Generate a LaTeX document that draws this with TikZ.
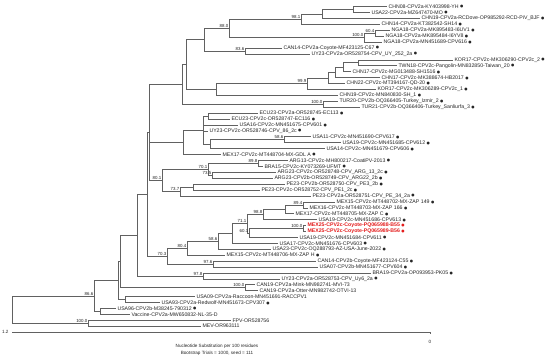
\documentclass[tikz,border=0pt]{standalone}
\usepackage{fontspec}
\setmainfont{Liberation Sans}
\newfontfamily\dvs{DejaVu Sans}
\usetikzlibrary{calc}
\definecolor{brc}{gray}{0.38}
\definecolor{mexred}{RGB}{228,28,28}
\newcommand\bul{ \raisebox{0.25pt}{\scalebox{0.72}{\dvs ●}}}
\newcommand\tleaf[4]{\coordinate (#1) at ({#3-2},{6.5+5.92*(#2-1)}); \node[lab] (t#1) at (#1) {#4};}
\newcommand\tnode[4]{\path let \p1=($(#3)!.5!(#4)$) in (#2pt,\y1) coordinate (#1);}
\newcommand\tedge[2]{\foreach \c in {#2}{\draw[br] (#1) |- (\c);}}
\newcommand\tboot[2]{\node[bs] (b#1) at (#1) {#2};}
\tikzset{
 br/.style={draw=brc, line width=0.5pt},
 lab/.style={font=\fontsize{5.2}{6}\selectfont, inner xsep=1.3pt, inner ysep=0pt, anchor=west, text=black!85},
 redlab/.style={lab, text=mexred, font=\fontsize{5.2}{6}\selectfont\bfseries},
 bs/.style={font=\fontsize{4.4}{5}\selectfont, inner sep=0.5pt, anchor=south east, text=black!85},
 axis/.style={font=\fontsize{4.6}{5.5}\selectfont, text=black!85}
}
\begin{document}
\begin{tikzpicture}[x=1pt,y=-1pt]
\fill[white] (0,0) rectangle (550,357);
\useasboundingbox (0,0) rectangle (550,357);
% leaves
\tleaf{L1}{1}{389}{CHN08-CPV2a-KY403998-YH\bul}
\tleaf{L2}{2}{372}{USA22-CPV2a-MZ647470-MO\bul}
\tleaf{L3}{3}{422}{CHN19-CPV2a-RCDove-OP985292-RCD-PiV\_BJF\bul}
\tleaf{L4}{4}{382}{CHN14-CPV2a-KT382542-SH14\bul}
\tleaf{L5}{5}{392}{NGA18-CPV2a-MK895483-I6UV1\bul}
\tleaf{L6}{6}{386}{NGA18-CPV2a-MK895484-I6YV8\bul}
\tleaf{L7}{7}{384}{NGA18-CPV2a-MN451689-CPV616\bul}
\tleaf{L8}{8}{284}{CAN14-CPV2a-Coyote-MF423125-C67\bul}
\tleaf{L9}{9}{312}{UY23-CPV2a-OR528754-CPV\_UY\_252\_2a\bul}
\tleaf{L10}{10}{455}{KOR17-CPV2c-MK306290-CPV2c\_2\bul}
\tleaf{L11}{11}{399}{TWN18-CPV2c-Pangolin-MN832850-Taiwan\_20\bul}
\tleaf{L12}{12}{353}{CHN17-CPV2c-MG013488-SH1516\bul}
\tleaf{L13}{13}{382}{CHN17-CPV2c-MK388674-HB2017\bul}
\tleaf{L14}{14}{347}{CHN22-CPV2c-MT394167-QD-20\bul}
\tleaf{L15}{15}{378}{KOR17-CPV2c-MK306289-CPV2c\_1\bul}
\tleaf{L16}{16}{340}{CHN19-CPV2c-MN840830-SH\_1\bul}
\tleaf{L17}{17}{340}{TUR20-CPV2b-OQ366405-Turkey\_Izmir\_2\bul}
\tleaf{L18}{18}{362}{TUR21-CPV2b-OQ366406-Turkey\_Sanliurfa\_3\bul}
\tleaf{L19}{19}{260}{ECU23-CPV2a-OR528745-EC113\bul}
\tleaf{L20}{20}{232}{ECU23-CPV2c-OR528747-EC116\bul}
\tleaf{L21}{21}{240}{USA16-CPV2c-MN451675-CPV601\bul}
\tleaf{L22}{22}{210}{UY23-CPV2c-OR528746-CPV\_86\_2c\bul}
\tleaf{L23}{23}{313}{USA11-CPV2c-MN451690-CPV617\bul}
\tleaf{L24}{24}{343}{USA19-CPV2c-MN451685-CPV612\bul}
\tleaf{L25}{25}{327}{USA14-CPV2c-MN451679-CPV606\bul}
\tleaf{L26}{26}{223}{MEX17-CPV2c-MT448704-MX-GDL A\bul}
\tleaf{L27}{27}{290}{ARG13-CPV2c-MH800217-CoatiPV-2013\bul}
\tleaf{L28}{28}{265}{BRA15-CPV2c-KY073269-UFMT\bul}
\tleaf{L29}{29}{278}{ARG23-CPV2c-OR528748-CPV\_ARG\_13\_2c\bul}
\tleaf{L30}{30}{275}{ARG23-CPV2b-OR528749-CPV\_ARG22\_2b\bul}
\tleaf{L31}{31}{287}{PE23-CPV2b-OR528750-CPV\_PE3\_2b\bul}
\tleaf{L32}{32}{262}{PE23-CPV2c-OR528752-CPV\_PE1\_2c\bul}
\tleaf{L33}{33}{313}{PE23-CPV2a-OR528751-CPV\_PE\_34\_2a\bul}
\tleaf{L34}{34}{337}{MEX15-CPV2c-MT448702-MX-ZAP 149\bul}
\tleaf{L35}{35}{310}{MEX16-CPV2c-MT448703-MX-ZAP 166\bul}
\tleaf{L36}{36}{296}{MEX17-CPV2c-MT448705-MX-ZAP C\bul}
\tleaf{L37}{37}{319}{USA19-CPV2c-MN451686-CPV613\bul}
\coordinate (L38) at (306,{6.5+5.92*37}); \node[redlab] (tL38) at (L38) {MEX25-CPV2c-Coyote-PQ065988-B55\bul};
\coordinate (L39) at (306,{6.5+5.92*38}); \node[redlab] (tL39) at (L39) {MEX25-CPV2c-Coyote-PQ065989-B56\bul};
\tleaf{L40}{40}{300}{USA19-CPV2c-MN451684-CPV611\bul}
\tleaf{L41}{41}{280}{USA17-CPV2c-MN451676-CPV603\bul}
\tleaf{L42}{42}{273}{USA23-CPV2c-OQ288793-AZ-USA-June-2022\bul}
\tleaf{L43}{43}{227}{MEX15-CPV2c-MT448706-MX-ZAP H\bul}
\tleaf{L44}{44}{318}{CAN14-CPV2b-Coyote-MF423124-C55\bul}
\tleaf{L45}{45}{320}{USA07-CPV2b-MN451677-CPV604\bul}
\tleaf{L46}{46}{373}{BRA19-CPV2a-OP093953-PK05\bul}
\tleaf{L47}{47}{282}{UY23-CPV2a-OR528753-CPV\_Uy6\_2a\bul}
\tleaf{L48}{48}{257}{CAN19-CPV2a-Mink-MN982741-MVI-73}
\tleaf{L49}{49}{260}{CAN19-CPV2a-Otter-MN982742-OTVI-13}
\tleaf{L50}{50}{197}{USA09-CPV2a-Raccoon-MN451691-RACCPV1}
\tleaf{L51}{51}{162}{USA93-CPV2a-Redwolf-MN451673-CPV307\bul}
\tleaf{L52}{52}{118}{USA96-CPV2b-M38245-790312\bul}
\tleaf{L53}{53}{132}{Vaccine-CPV2a-MW650832-NL-35-D}
\tleaf{L54}{54}{233}{FPV-OR528756}
\tleaf{L55}{55}{203}{MEV-OR963111}
% internal nodes
\tnode{n353}{353}{L1}{L2}
\tnode{n322}{322}{n353}{L3}
\tnode{n981}{301}{n322}{L4}
\tnode{n604}{375}{L5}{L6}
\tnode{n100a}{364}{n604}{L7}
\tnode{n880}{229}{n981}{n100a}
\tnode{n836}{245}{L8}{L9}
\tnode{A2}{204}{n880}{n836}
\tnode{q1}{358}{L10}{L11}
\tnode{q2}{343}{q1}{L12}
\tnode{q3}{335}{q2}{L13}
\tnode{q4}{328}{q3}{L14}
\tnode{q99}{307}{q4}{L15}
\tnode{A3}{216}{q99}{L16}
\tnode{A1}{186}{A2}{A3}
\tnode{TUR}{323}{L17}{L18}
\tnode{A}{182}{A1}{TUR}
\tnode{EC}{208}{L19}{L20}
\tnode{k584}{284}{L23}{L24}
\tnode{K}{210}{k584}{L25}
\tnode{J}{203}{EC}{K}
\tnode{L}{183}{J}{L26}
\tnode{P1}{258}{L27}{L28}
\tnode{P73}{212}{L29}{L30}
\tnode{P70}{208}{P1}{P73}
\tnode{pe}{193}{L31}{L32}
\tnode{PE73}{180}{pe}{L33}
\tnode{Pg}{162}{P70}{PE73}
\tnode{T}{149}{A}{Pg}
\tnode{n89}{303}{L34}{L35}
\tnode{nh2}{285}{n89}{L36}
\tnode{n98}{263}{nh2}{L37}
\tnode{m25}{303}{L38}{L39}
\tnode{n60}{249}{m25}{L40}
\tnode{n71}{247}{n98}{n60}
\tnode{n1}{232}{n71}{L41}
\tnode{n586}{218}{n1}{L42}
\tnode{n804}{187}{n586}{L43}
\tnode{G}{213}{L44}{L45}
\tnode{n703}{167}{n804}{G}
\tnode{C}{147}{T}{n703}
\tnode{D}{203}{L46}{L47}
\tnode{B}{137}{C}{D}
\tnode{MO}{245}{L48}{L49}
\tnode{W}{120}{B}{MO}
\tnode{Q}{125}{L50}{L51}
\tnode{X}{118}{W}{Q}
\tnode{V}{100}{L52}{L53}
\tnode{I}{94}{X}{V}
\tnode{O}{88}{L54}{L55}
\tnode{R}{12}{I}{O}
% edges
\tedge{n353}{L1,L2}
\tedge{n322}{n353,L3}
\tedge{n981}{n322,L4}
\tedge{n604}{L5,L6}
\tedge{n100a}{n604,L7}
\tedge{n880}{n981,n100a}
\tedge{n836}{L8,L9}
\tedge{A2}{n880,n836}
\tedge{q1}{L10,L11}
\tedge{q2}{q1,L12}
\tedge{q3}{q2,L13}
\tedge{q4}{q3,L14}
\tedge{q99}{q4,L15}
\tedge{A3}{q99,L16}
\tedge{A1}{A2,A3}
\tedge{TUR}{L17,L18}
\tedge{A}{A1,TUR}
\tedge{EC}{L19,L20}
\tedge{k584}{L23,L24}
\tedge{K}{k584,L25}
\tedge{J}{EC,L21,L22,K}
\tedge{L}{J,L26}
\tedge{P1}{L27,L28}
\tedge{P73}{L29,L30}
\tedge{P70}{P1,P73}
\tedge{pe}{L31,L32}
\tedge{PE73}{pe,L33}
\tedge{Pg}{P70,PE73}
\tedge{T}{A,L,Pg}
\tedge{n89}{L34,L35}
\tedge{nh2}{n89,L36}
\tedge{n98}{nh2,L37}
\tedge{m25}{L38,L39}
\tedge{n60}{m25,L40}
\tedge{n71}{n98,n60}
\tedge{n1}{n71,L41}
\tedge{n586}{n1,L42}
\tedge{n804}{n586,L43}
\tedge{G}{L44,L45}
\tedge{n703}{n804,G}
\tedge{C}{T,n703}
\tedge{D}{L46,L47}
\tedge{B}{C,D}
\tedge{MO}{L48,L49}
\tedge{W}{B,MO}
\tedge{Q}{L50,L51}
\tedge{X}{W,Q}
\tedge{V}{L52,L53}
\tedge{I}{X,V}
\tedge{O}{L54,L55}
\tedge{R}{I,O}
% bootstrap values
\tboot{n981}{98.1}
\tboot{n880}{88.0}
\tboot{n604}{60.4}
\tboot{n100a}{100.0}
\tboot{n836}{83.6}
\tboot{q99}{99.9}
\tboot{TUR}{100.0}
\tboot{k584}{58.6}
\tboot{P1}{89.8}
\tboot{P73}{73.5}
\tboot{P70}{70.1}
\tboot{PE73}{73.7}
\tboot{Pg}{80.1}
\tboot{n89}{89.4}
\tboot{n98}{98.8}
\tboot{m25}{100.0}
\tboot{n71}{71.1}
\tboot{n60}{60.1}
\tboot{n586}{58.6}
\tboot{n804}{80.4}
\tboot{n703}{70.3}
\tboot{G}{97.6}
\tboot{D}{97.8}
\tboot{MO}{100.0}
\tboot{I}{86.6}
\tboot{O}{100.0}
% scale
\coordinate (s0) at (12,332);
\coordinate (s1) at (430,332);
\draw[br] (s0) -- (s1);
\draw[br] (s1) -- ++(0,2);
\node[axis, anchor=east] (sl) at (s0) {1.2};
\node[axis, anchor=north] (sr) at ($(s1)+(0,5)$) {0};
\node[axis] (cap1) at (217,346) {Nucleotide Substitution per 100 residues};
\node[axis] (cap2) at (217,353) {Bootstrap Trials = 1000, seed = 111};
\end{tikzpicture}
\end{document}
